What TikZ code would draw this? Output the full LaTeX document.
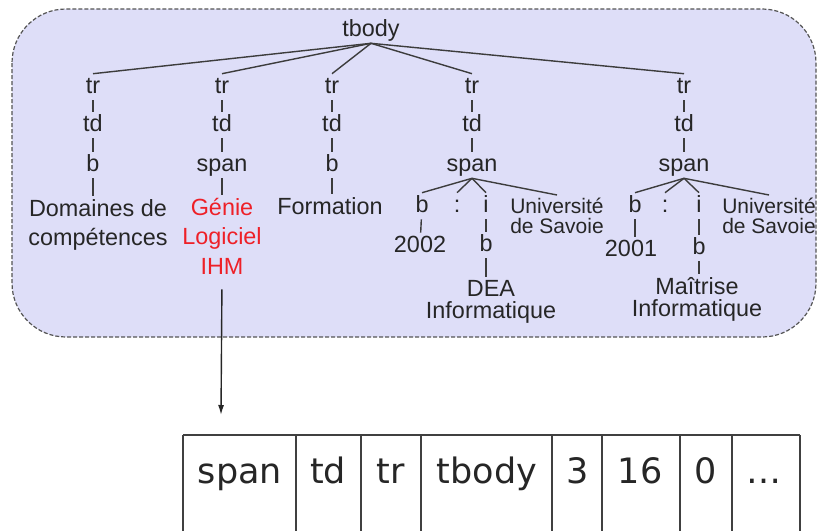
\documentclass[tikz,border=0pt]{standalone}
\usepackage{fontspec}
\usetikzlibrary{arrows.meta}
\newfontfamily\treefont{Liberation Sans}
\newfontfamily\cellfont{DejaVu Sans}
\definecolor{boxfill}{RGB}{222,222,248}
\definecolor{boxline}{RGB}{85,85,85}
\definecolor{treeline}{RGB}{60,60,60}
\definecolor{hilite}{RGB}{238,32,40}
\tikzset{
  tag/.style={font=\treefont\fontsize{11.7}{14}\selectfont, text=black!85,
    text height=8.4pt, text depth=1.5pt, inner sep=1.5pt},
  leaf/.style={font=\treefont\fontsize{11.7}{14.6}\selectfont, text=black!85,
    align=center, anchor=north, inner sep=1.5pt},
  small/.style={leaf, font=\treefont\fontsize{10.5}{10}\selectfont},
  edge/.style={draw=treeline, line width=0.7pt},
  arr/.style={draw=black!85, line width=0.7pt, -{Latex[length=5pt,width=3pt]}},
  grid/.style={draw=black!75, line width=0.7pt},
  cell/.style={font=\cellfont\fontsize{17.5}{20}\selectfont, text=black!85, anchor=base}
}
\begin{document}
\begin{tikzpicture}[x=0.5pt,y=-0.5pt]
    \useasboundingbox (0,0) rectangle (817,530);
    % DOM tree frame
    \draw[boxline, fill=boxfill, dashed, dash pattern=on 2pt off 1pt, line width=0.6pt,
      rounded corners=27pt] (12,9) rectangle (816,337);

    % Root and rows
    \node[tag] (tbody) at (371,30) {tbody};
    \foreach \x/\n in {93/A, 222/B, 332/C, 472/D, 684/E} {
        \node[tag] (tr\n) at (\x,87) {tr};
        \node[tag] (td\n) at (\x,125) {td};
        \draw[edge] (tbody.south) -- (tr\n.north);
        \draw[edge] (tr\n) -- (td\n);
    }

    % Cells content
    \node[tag] (bA) at (93,165) {b};
    \node[tag] (spanB) at (222,165) {span};
    \node[tag] (bC) at (332,165) {b};
    \node[tag] (spanD) at (472,165) {span};
    \node[tag] (spanE) at (684,165) {span};
    \foreach \n/\m in {A/bA, B/spanB, C/bC, D/spanD, E/spanE}
        \draw[edge] (td\n) -- (\m);

    \node[leaf] (leafA) at (98,196) {Domaines de\\comp\'etences};
    \node[leaf, text=hilite] (leafB) at (222,195) {G\'enie\\Logiciel\\IHM};
    \node[leaf] (leafC) at (330,194) {Formation};
    \draw[edge] (bA.south) -- (bA.south |- leafA.north);
    \draw[edge] (spanB) -- (leafB);
    \draw[edge] (bC.south) -- (bC.south |- leafC.north);

    % Diploma DEA
    \node[tag] (bD) at (422,206) {b};
    \node[tag] (colD) at (457,206) {:};
    \node[tag] (iD) at (486,206) {i};
    \node[small] (univD) at (557,195) {Universit\'e\\de Savoie};
    \node[tag] (yrD) at (420,246) {2002};
    \node[tag] (bbD) at (486,245) {b};
    \node[leaf, font=\treefont\fontsize{11.7}{11}\selectfont] (deaD) at (491,277) {DEA\\Informatique};
    \foreach \m in {bD, colD, iD, univD}
        \draw[edge] (spanD.south) -- (\m.north);
    \draw[edge] (bD) -- (yrD);
    \draw[edge] (iD) -- (bbD);
    \draw[edge] (bbD.south) -- (bbD.south |- deaD.north);

    % Diploma Maitrise
    \node[tag] (bE) at (635,206) {b};
    \node[tag] (colE) at (665,206) {:};
    \node[tag] (iE) at (699,206) {i};
    \node[small] (univE) at (769,195) {Universit\'e\\de Savoie};
    \node[tag] (yrE) at (631,250) {2001};
    \node[tag] (bbE) at (699,248) {b};
    \node[leaf, font=\treefont\fontsize{11.7}{11}\selectfont] (maiE) at (697,274) {Ma\^itrise\\Informatique};
    \foreach \m in {bE, colE, iE, univE}
        \draw[edge] (spanE.south) -- (\m.north);
    \draw[edge] (bE.south) -- (bE.south |- yrE.north);
    \draw[edge] (iE) -- (bbE);
    \draw[edge] (bbE.south) -- (bbE.south |- maiE.north);

    % Path vector of the selected node
    \coordinate (ptr) at (221,415);
    \draw[arr, shorten <=6pt] (leafB.south) -- (ptr);
    \draw[grid] (183,435) -- (800,435);
    \foreach \x in {183,296,361,421,552,602,680,732,800}
        \draw[grid] (\x,435) -- (\x,545);
    \foreach \x/\t [count=\i] in {240/span, 328/td, 391/tr, 487/tbody, 578/3, 640/16, 706/0, 764/\dots}
        \node[cell] (c\i) at (\x,483) {\t};
\end{tikzpicture}
\end{document}
